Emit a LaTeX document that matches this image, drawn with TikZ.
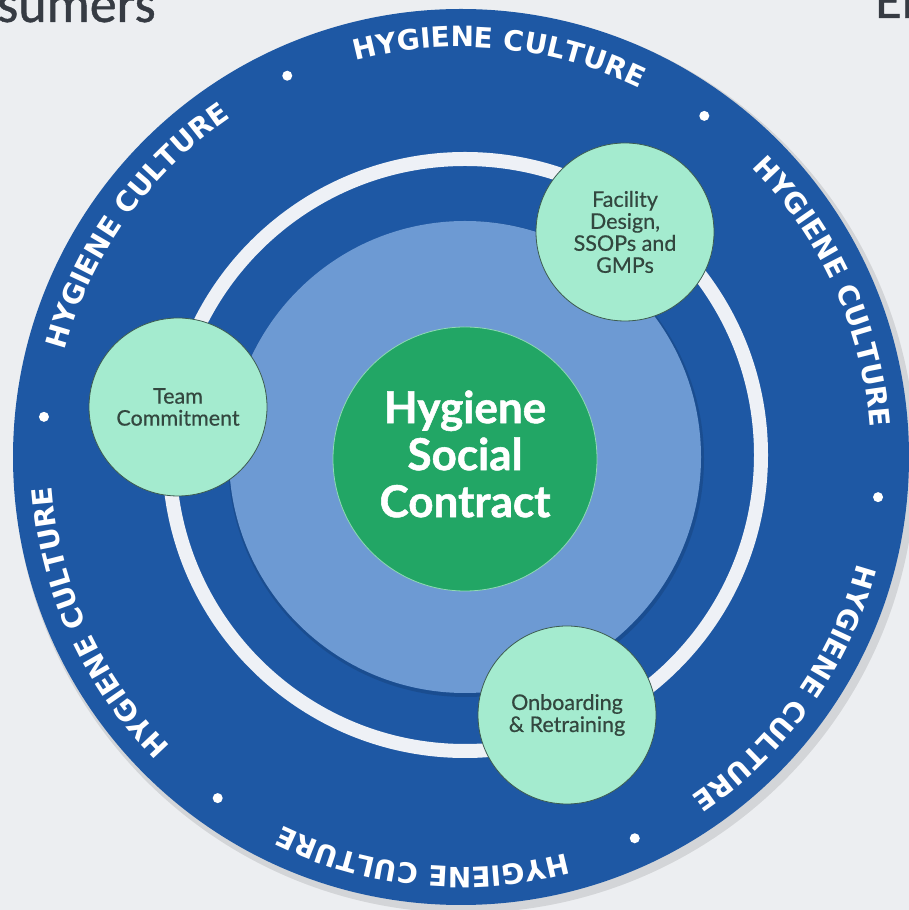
\documentclass[tikz,border=0pt]{standalone}
\usepackage{fontspec}
\setmainfont{Lato}
\newfontfamily\ringfont{DejaVu Sans}
\newfontfamily\slidefont{Carlito}[FakeBold=0.8]
\newfontfamily\pillarfont{Lato}[FakeBold=0.5]
\newfontfamily\hscfont{Lato}[UprightFont=* Bold, FakeBold=1.2]
\usetikzlibrary{decorations.text}
\definecolor{bg}{HTML}{ECEEF1}
\definecolor{darkblue}{HTML}{1E58A4}
\definecolor{lightblue}{HTML}{6D9AD3}
\definecolor{ringwhite}{HTML}{EEF1F6}
\definecolor{hscgreen}{HTML}{22A665}
\definecolor{hscedge}{HTML}{8FD9B4}
\definecolor{mint}{HTML}{A4EBCF}
\definecolor{mintline}{HTML}{3D5C51}
\definecolor{minttext}{HTML}{33473F}
\definecolor{slidegray}{HTML}{363B43}
\begin{document}
\begin{tikzpicture}[x=1pt,y=1pt,
  pillar/.style={circle, fill=mint, draw=mintline, line width=0.8pt, minimum size=178pt, inner sep=0pt, align=center, text=minttext, font=\pillarfont\fontsize{21.5}{22}\selectfont},
  ringlabel/.style={decorate, decoration={text along path, text align=center, text color=white, text={|\ringfont\bfseries\fontsize{28}{28}\selectfont|HYGIENE CULTURE}}},
  ringdot/.style={circle, fill=white, minimum size=10pt, inner sep=0pt},
  slidetext/.style={anchor=base west, inner sep=0pt, text=slidegray, font=\slidefont\fontsize{54}{54}\selectfont}
]
\fill[bg] (0,0) rectangle (909,910);
\useasboundingbox (0,0) rectangle (909,910);
% partial slide titles
\node[slidetext] (lefttitle) at (-3,888) {sumers};
\node[slidetext] (righttitle) at (875,892) {En};
% outer disc
\coordinate (C) at (461,453);
\fill[black, opacity=0.10] (465,448) circle (451);
\node[circle, fill=darkblue, minimum size=896pt, inner sep=0pt] (outer) at (C) {};
% white ring
\node[circle, draw=ringwhite, line width=14pt, minimum size=592pt, inner sep=0pt] (ring) at (465,455) {};
% light blue disc
\fill[black, opacity=0.12] (466,451) circle (238);
\node[circle, fill=lightblue, minimum size=472pt, inner sep=0pt] (inner) at (465,453) {};
% center
\node[circle, fill=hscgreen, draw=hscedge, line width=0.8pt, minimum size=264pt, inner sep=0pt] (hsc) at (465,451) {};
\node[align=center, text=white, font=\hscfont\fontsize{44}{47}\selectfont, inner sep=0pt] (hsctext) at (465,456) {Hygiene\\Social\\Contract};
% ring labels
\foreach \a in {84.5,24.5,-35.5,-95.5,-155.5,-215.5} {
  \path[ringlabel] (C) ++(\a+28:410) arc[start angle=\a+28, end angle=\a-28, radius=410];
}
\foreach \a [count=\i] in {114.5,54.5,-5.5,-65.5,-125.5,174.5} {
  \path (C) ++(\a:419) node[ringdot] (dot\i) {};
}
% pillars
\node[pillar] (team) at (178,503) {Team\\Commitment};
\node[pillar] (facility) at (625,678) {Facility\\Design,\\SSOPs and\\GMPs};
\node[pillar] (onboard) at (567,195) {Onboarding\\\&~Retraining};
\end{tikzpicture}
\end{document}
